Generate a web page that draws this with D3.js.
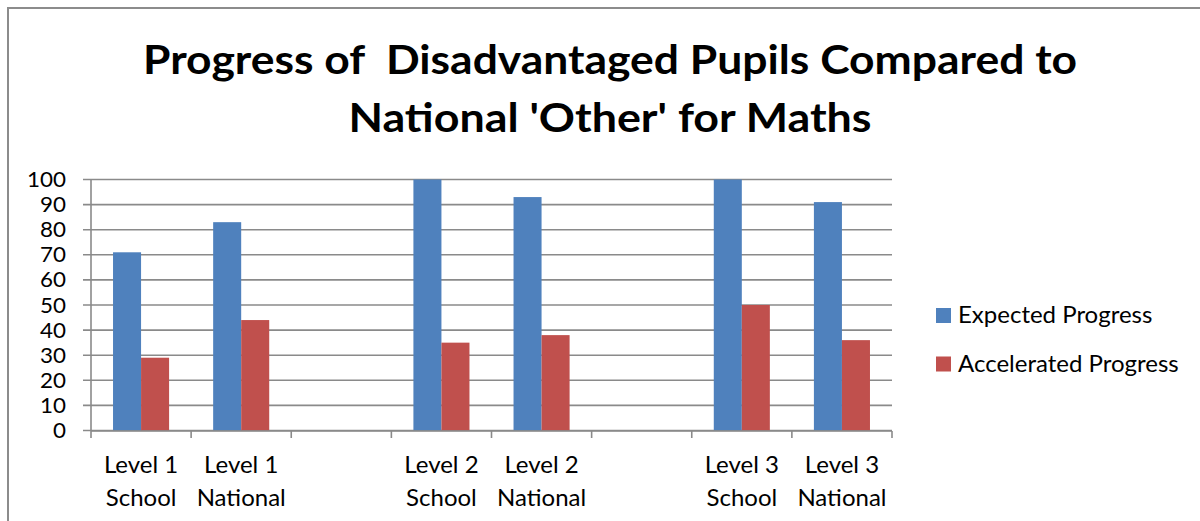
<!DOCTYPE html>
<html>
<head>
<meta charset="utf-8">
<script src="https://cdn.jsdelivr.net/npm/d3@7"></script>
<style>
  html, body { margin: 0; padding: 0; background: #fff; }
  svg { display: block; font-family: Lato, "Open Sans", sans-serif; }
</style>
</head>
<body>
<svg id="chart" width="1200" height="521"></svg>
<script>
// ---- data ----
const categories = ["L1S", "L1N", "gap1", "L2S", "L2N", "gap2", "L3S", "L3N"];
const categoryLabels = [["Level 1", "School"], ["Level 1", "National"], ["", ""],
                        ["Level 2", "School"], ["Level 2", "National"], ["", ""],
                        ["Level 3", "School"], ["Level 3", "National"]];
const seriesNames = ["Expected Progress", "Accelerated Progress"];
const expectedProgress    = [71, 83, null, 100, 93, null, 100, 91];
const acceleratedProgress = [29, 44, null, 35, 38, null, 50, 36];
const yTicks = [0, 10, 20, 30, 40, 50, 60, 70, 80, 90, 100];
const titleLines = ["Progress of  Disadvantaged Pupils Compared to", "National 'Other' for Maths"];

const colors = ["#4F81BD", "#C0504D"];
const gridColor = "#8a8a8a";

const svg = d3.select("#chart");

// chart border (top & left visible)
svg.append("path")
  .attr("d", "M8,521 L8,8 L1200,8")
  .attr("fill", "none").attr("stroke", "#8c8c8c").attr("stroke-width", 2);

// title
svg.append("g").selectAll("text").data(titleLines).join("text")
  .attr("x", 610).attr("y", (d, i) => 74 + i * 58)
  .attr("text-anchor", "middle")
  .attr("font-size", 41).attr("font-weight", 700)
  .attr("fill", "#000")
  .style("white-space", "pre")
  .attr("textLength", (d, i) => i === 0 ? 934 : 523)
  .attr("lengthAdjust", "spacingAndGlyphs")
  .text(d => d);

// scales
const x0 = d3.scaleBand().domain(categories).range([91, 892]).paddingInner(0).paddingOuter(0);
const x1 = d3.scaleBand().domain(seriesNames).range([0, x0.bandwidth()]).paddingInner(0).paddingOuter(0.786);
const y = d3.scaleLinear().domain([0, 100]).range([430.5, 179.5]);

// gridlines + y ticks
svg.append("g").selectAll("line").data(yTicks).join("line")
  .attr("x1", 83).attr("x2", 892)
  .attr("y1", d => y(d)).attr("y2", d => y(d))
  .attr("stroke", gridColor).attr("stroke-width", 1.6);

// y axis line
svg.append("line").attr("x1", 91).attr("x2", 91)
  .attr("y1", y(100)).attr("y2", y(0))
  .attr("stroke", gridColor).attr("stroke-width", 1.6);

// y labels
svg.append("g").selectAll("text").data(yTicks).join("text")
  .attr("x", 66).attr("y", d => y(d) + 7.5)
  .attr("text-anchor", "end").attr("font-size", 21).attr("fill", "#000")
  .attr("textLength", d => String(d).length * 13)
  .attr("lengthAdjust", "spacingAndGlyphs")
  .text(d => d);

// bars
const rows = categories.map((c, i) => ({ cat: c, vals: [expectedProgress[i], acceleratedProgress[i]] }));
const groups = svg.append("g").selectAll("g").data(rows).join("g")
  .attr("transform", d => `translate(${x0(d.cat)},0)`);
groups.selectAll("rect")
  .data(d => d.vals.map((v, j) => ({ key: seriesNames[j], v, j })).filter(e => e.v !== null))
  .join("rect")
  .attr("x", d => x1(d.key))
  .attr("width", x1.bandwidth())
  .attr("y", d => y(d.v))
  .attr("height", d => y(0) - y(d.v))
  .attr("fill", d => colors[d.j]);

// x axis line and ticks
svg.append("line").attr("x1", 91).attr("x2", 892)
  .attr("y1", 431).attr("y2", 431)
  .attr("stroke", gridColor).attr("stroke-width", 1.6);
const tickXs = categories.map(c => x0(c)).concat([x0.range()[1]]);
svg.append("g").selectAll("line").data(tickXs).join("line")
  .attr("x1", d => d).attr("x2", d => d)
  .attr("y1", 431).attr("y2", 438)
  .attr("stroke", gridColor).attr("stroke-width", 1.6);

// x labels
const xl = svg.append("g").selectAll("text").data(categories).join("text")
  .attr("text-anchor", "middle").attr("font-size", 24).attr("fill", "#000");
xl.each(function(c, i) {
  const t = d3.select(this);
  const cx = x0(c) + x0.bandwidth() / 2;
  categoryLabels[i].forEach((line, k) => {
    t.append("tspan").attr("x", cx).attr("y", 473 + k * 33).text(line);
  });
});

// legend
const lg = svg.append("g").selectAll("g").data(seriesNames).join("g")
  .attr("transform", (d, i) => `translate(936,${308 + i * 48.5})`);
lg.append("rect").attr("width", 15).attr("height", 15).attr("fill", (d, i) => colors[i]);
lg.append("text").attr("x", 22).attr("y", 15).attr("font-size", 24).attr("fill", "#000").text(d => d);
</script>
</body>
</html>
